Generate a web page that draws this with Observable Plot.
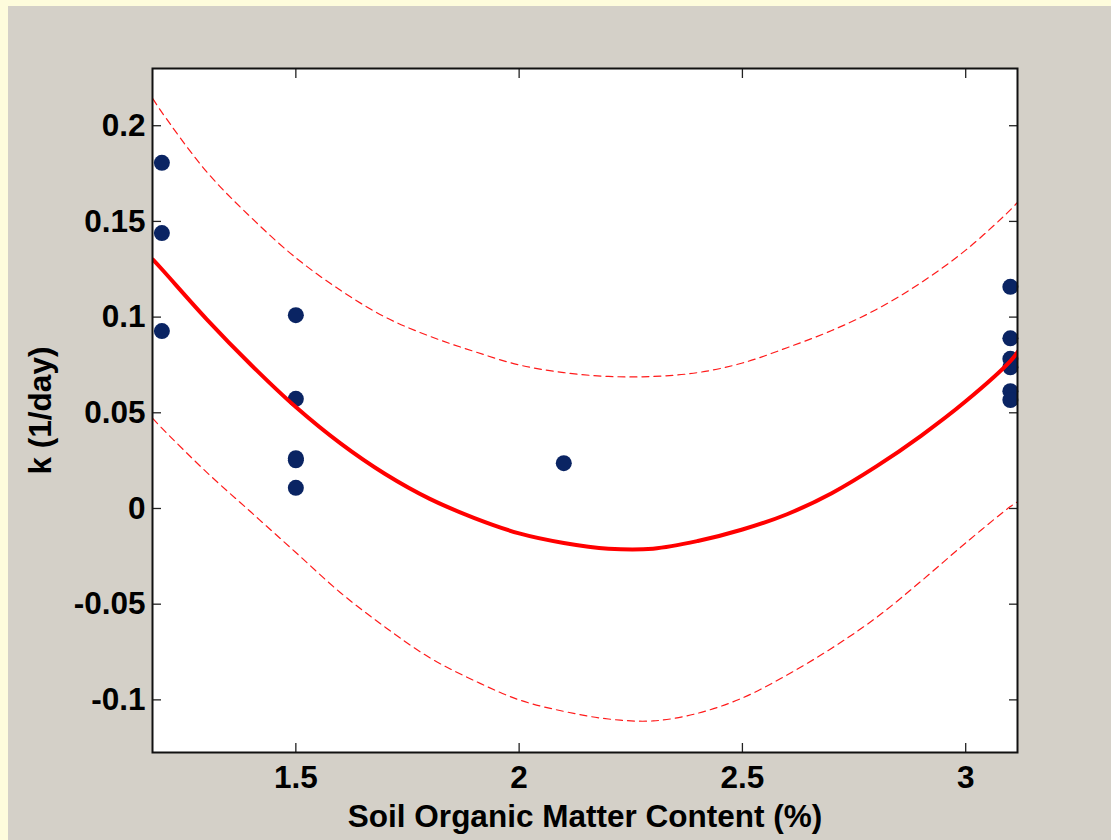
<!DOCTYPE html>
<html>
<head>
<meta charset="utf-8">
<script src="https://cdn.jsdelivr.net/npm/d3@7"></script>
<script src="https://cdn.jsdelivr.net/npm/@observablehq/plot@0.6"></script>
<style>
  html, body { margin: 0; padding: 0; background: #fefcdc; }
  #chart {
    width: 1111px; height: 840px;
    background: linear-gradient(#d4d0c8, #d4d0c8) 8px 6px / 100% 100% no-repeat, #fefcdc;
  }
  #chart svg { display: block; }
</style>
</head>
<body>
<div id="chart"></div>
<script>
// Observed data: soil organic matter (%) vs decay rate k (1/day)
const somX = [1.2, 1.2, 1.2, 1.5, 1.5, 1.5, 1.5, 1.5, 2.1, 3.1, 3.1, 3.1, 3.1, 3.1, 3.1];
const kObs = [0.1806, 0.1439, 0.0927, 0.101, 0.0573, 0.0263, 0.0252, 0.0108, 0.0237, 0.1158, 0.0889, 0.0782, 0.0738, 0.0613, 0.0567];

// Fitted curve and confidence bounds
const fitX   = [1.18, 1.2, 1.3, 1.4, 1.5, 1.6, 1.7, 1.8, 1.9, 2.0, 2.1, 2.2, 2.3, 2.4, 2.5, 2.6, 2.7, 2.8, 2.9, 3.0, 3.1, 3.12];
const kFit   = [0.130, 0.125, 0.099, 0.075, 0.053, 0.034, 0.018, 0.005, -0.005, -0.013, -0.018, -0.021, -0.021, -0.017, -0.011, -0.003, 0.008, 0.022, 0.038, 0.056, 0.077, 0.083];
const kUpper = [0.214, 0.207, 0.176, 0.152, 0.131, 0.114, 0.100, 0.090, 0.082, 0.075, 0.071, 0.069, 0.069, 0.071, 0.076, 0.084, 0.093, 0.104, 0.118, 0.135, 0.156, 0.161];
const kLower = [0.047, 0.042, 0.019, -0.002, -0.023, -0.044, -0.062, -0.078, -0.090, -0.100, -0.106, -0.110, -0.111, -0.107, -0.099, -0.087, -0.073, -0.057, -0.038, -0.018, 0.001, 0.004];

const xTicks = [1.5, 2, 2.5, 3];
const xTickLabels = ["1.5", "2", "2.5", "3"];
const yTicks = [-0.1, -0.05, 0, 0.05, 0.1, 0.15, 0.2];
const yTickLabels = ["-0.1", "-0.05", "0", "0.05", "0.1", "0.15", "0.2"];
const xLabel = "Soil Organic Matter Content (%)";
const yLabel = "k (1/day)";

const points = somX.map((x, i) => ({x, k: kObs[i]}));
const fit = fitX.map((x, i) => ({x, k: kFit[i], up: kUpper[i], lo: kLower[i]}));

const font = "'Liberation Sans', Arial, sans-serif";
const fs = 31.5;

const chart = Plot.plot({
  width: 1111,
  height: 840,
  marginLeft: 152,
  marginRight: 94,
  marginTop: 68,
  marginBottom: 88,
  style: {fontFamily: font, fontWeight: "bold", fontSize: fs + "px", color: "black", background: "transparent"},
  x: {domain: [1.179, 3.116]},
  y: {domain: [-0.1275, 0.2299]},
  marks: [
    Plot.frame({fill: "white", stroke: null}),
    // inward tick marks on all four sides
    Plot.axisX(xTicks, {anchor: "bottom", tickSize: -9, tickFormat: () => "", label: null, stroke: "#222", strokeWidth: 1.3}),
    Plot.axisX(xTicks, {anchor: "top", tickSize: -9, tickFormat: () => "", label: null, stroke: "#222", strokeWidth: 1.3}),
    Plot.axisY(yTicks, {anchor: "left", tickSize: -9, tickFormat: () => "", label: null, stroke: "#222", strokeWidth: 1.3}),
    Plot.axisY(yTicks, {anchor: "right", tickSize: -9, tickFormat: () => "", label: null, stroke: "#222", strokeWidth: 1.3}),
    // tick labels
    Plot.axisX(xTicks, {anchor: "bottom", tickSize: 0, tickPadding: 13, label: null,
      tickFormat: (d) => xTickLabels[xTicks.indexOf(d)], fontSize: fs, fontWeight: "bold", fill: "black"}),
    Plot.axisY(yTicks, {anchor: "left", tickSize: 0, tickPadding: 7, label: null,
      tickFormat: (d) => yTickLabels[yTicks.indexOf(d)], fontSize: fs, fontWeight: "bold", fill: "black"}),
    // confidence bounds
    Plot.line(fit, {x: "x", y: "up", stroke: "#ff1a1a", strokeWidth: 1.2, strokeDasharray: "7,5", clip: true, curve: "catmull-rom"}),
    Plot.line(fit, {x: "x", y: "lo", stroke: "#ff1a1a", strokeWidth: 1.2, strokeDasharray: "7,5", clip: true, curve: "catmull-rom"}),
    // observations
    Plot.dot(points, {x: "x", y: "k", r: 8, fill: "#0a2463", stroke: null}),
    // fitted curve
    Plot.line(fit, {x: "x", y: "k", stroke: "#ff0000", strokeWidth: 4, clip: true, curve: "catmull-rom"}),
    // axes box
    Plot.frame({stroke: "#111", strokeWidth: 2}),
    // axis titles
    Plot.text([xLabel], {frameAnchor: "bottom", lineAnchor: "middle", textAnchor: "middle", dy: 64, text: (d) => d, fontSize: fs, fontWeight: "bold", fill: "black"}),
    Plot.text([yLabel], {frameAnchor: "left", lineAnchor: "middle", textAnchor: "middle", dx: -112, rotate: -90, text: (d) => d, fontSize: fs, fontWeight: "bold", fill: "black"})
  ]
});
document.getElementById("chart").appendChild(chart);
</script>
</body>
</html>
